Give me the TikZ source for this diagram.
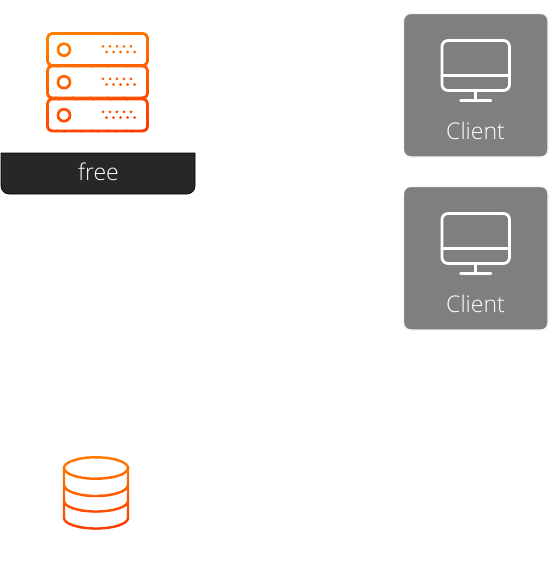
\documentclass[tikz,border=0pt]{standalone}
\usepackage{fontspec}
\setmainfont{Open Sans}[UprightFont=* Light]
\definecolor{orA}{HTML}{FF8000}
\definecolor{orB}{HTML}{FF3800}
\definecolor{barc}{HTML}{272727}
\definecolor{cardc}{HTML}{7F7F7F}
\tikzset{
  iconline/.style={line width=2.8pt,line join=round,line cap=round},
  cardbox/.style={fill=cardc,draw=black!3,line width=1.4pt,rounded corners=7pt},
  monline/.style={draw=white,line width=2.8pt,line join=round,line cap=round},
  labeltext/.style={text=white,font=\fontsize{23}{25}\selectfont,inner sep=0pt},
}
\newcommand{\serverrow}[2]{%
  \draw[iconline,rounded corners=4.5pt,draw=#2] (47.5,#1-16) rectangle (147.5,#1+16);
  \draw[line width=2.6pt,draw=#2] (64,#1+.2) circle (6);
  \foreach \dx in {103,110,117,124,131}{\fill[#2] (\dx,#1-3.2) circle (1.5);}
  \foreach \dx in {106.5,113.5,120.5,127.5,134.5}{\fill[#2] (\dx,#1+2.5) circle (1.5);}
}
\newcommand{\dbshape}[1]{%
  \draw[line width=2.4pt,draw=#1] (96,468) ellipse (32 and 10.7);
  \draw[line width=2.4pt,draw=#1] (64,468) -- (64,518) arc[start angle=180,end angle=0,x radius=32,y radius=10.5] -- (128,468);
  \draw[line width=2.4pt,draw=#1] (64,485) arc[start angle=180,end angle=0,x radius=32,y radius=11];
  \draw[line width=2.4pt,draw=#1] (64,501) arc[start angle=180,end angle=0,x radius=32,y radius=10.5];
}
% draws an icon in slanted bands, so that its stroke runs from orange to red
\newcommand{\bandicon}[6]{%
  \foreach \k in {0,...,29}{%
    \pgfmathsetmacro{\ya}{#3+(#4-#3)*\k/30-.15}
    \pgfmathsetmacro{\yb}{#3+(#4-#3)*(\k+1)/30+.15}
    \pgfmathsetmacro{\mixv}{100-\k*100/29}
    \begin{scope}
      \clip (#1,\ya+#5) -- (#2,\ya-#5) -- (#2,\yb-#5) -- (#1,\yb+#5) -- cycle;
      \colorlet{bandc}{orA!\mixv!orB}
      #6
    \end{scope}}}
\newcommand{\clientcard}[2]{%
  \begin{scope}[yshift=-#1pt]
    \draw[cardbox] (403.5,13.5) rectangle (548,157);
    \draw[monline,rounded corners=6pt] (442,40.5) rectangle (509.5,90.5);
    \draw[monline] (442,75.5) -- (509.5,75.5);
    \draw[monline] (475.7,90.5) -- (475.7,100.5);
    \draw[monline] (460.5,100.7) -- (491,100.7);
    \node[labeltext] (#2) at (475.5,131) {Client};
  \end{scope}}
\begin{document}
\begin{tikzpicture}[x=1pt,y=-1pt]
  \useasboundingbox (0,0) rectangle (550,562);
  \bandicon{40}{155}{20}{145}{14}{\serverrow{49.5}{bandc}\serverrow{82}{bandc}\serverrow{115}{bandc}}
  \bandicon{55}{137}{450}{535}{5}{\dbshape{bandc}}
  \draw[fill=barc,draw=black,line width=.6pt] (1,153) -- (195,153) [rounded corners=8pt] -- (195,194) -- (1,194) [sharp corners] -- (1,153) -- cycle;
  \node[text=white,font=\fontsize{23}{26}\selectfont,inner sep=0pt] (freelabel) at (98.5,171.5) {free};
  \clientcard{0}{clienta}
  \clientcard{173}{clientb}
\end{tikzpicture}
\end{document}
